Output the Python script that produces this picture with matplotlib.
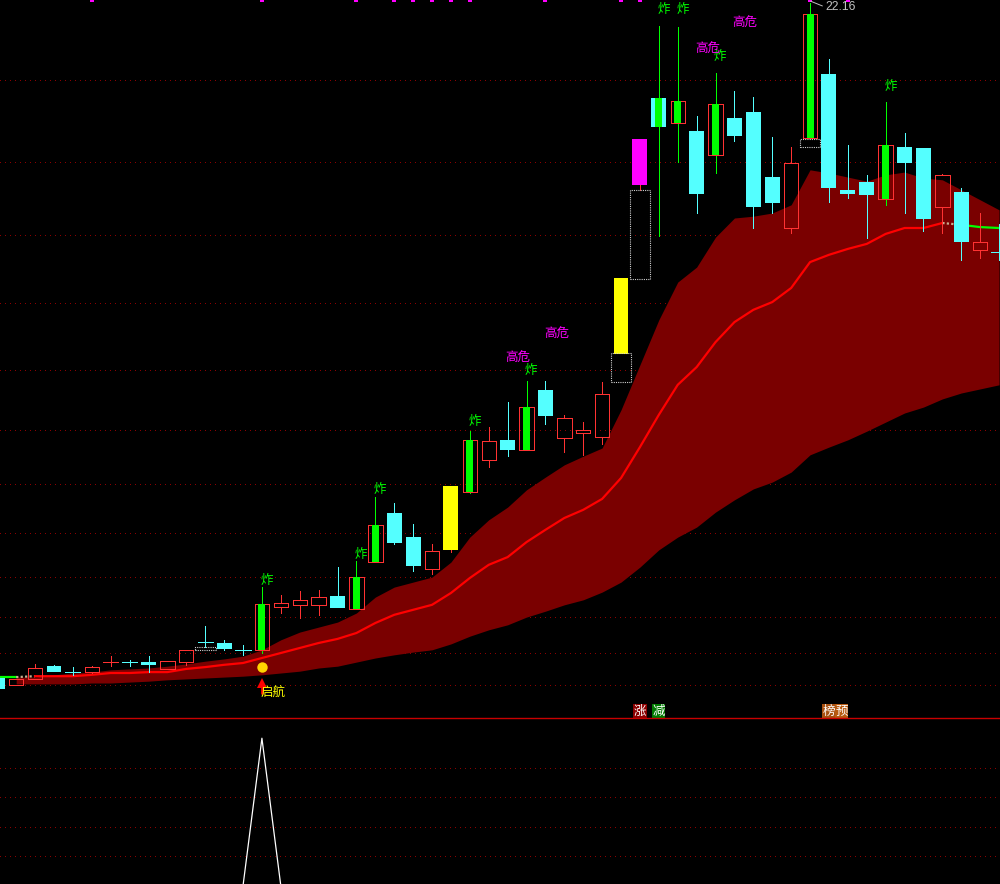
import matplotlib
matplotlib.use('Agg')
import matplotlib.pyplot as plt
from matplotlib.patches import Rectangle

plt.rcParams['font.family'] = ['Noto Sans CJK SC', 'DejaVu Sans']

# K线数据
opens = [7.31, 7.16, 7.29, 7.57, 7.45, 7.45, 7.66, 7.66, 7.66, 7.51,
         7.67, 8.10, 8.08, 7.93, 7.93, 8.88, 8.91, 8.92, 9.11, 8.83,
         9.87, 10.94, 10.41, 9.71, 10.13, 11.41, 12.11, 12.55, 12.33, 13.65,
         12.60, 12.71, 12.62, 14.44, 18.16, 20.07, 19.52, 19.34, 18.82, 19.63,
         19.76, 18.33, 17.21, 19.19, 20.60, 18.05, 18.22, 17.85, 18.99, 18.97,
         17.67, 18.00, 16.73, 16.68]
closes = [7.07, 7.28, 7.52, 7.44, 7.45, 7.55, 7.66, 7.66, 7.60, 7.68,
          7.92, 8.10, 7.95, 7.93, 8.94, 8.95, 9.02, 9.09, 8.85, 9.53,
          10.67, 10.29, 9.77, 10.10, 11.53, 12.54, 12.52, 12.33, 13.27, 13.07,
          13.02, 12.76, 13.55, 16.11, 19.17, 19.43, 20.00, 17.96, 19.94, 19.23,
          17.67, 17.76, 18.64, 21.92, 18.09, 17.96, 17.94, 19.04, 18.64, 17.41,
          18.38, 16.90, 16.90, 16.68]
highs = [7.31, 7.28, 7.62, 7.60, 7.55, 7.57, 7.79, 7.71, 7.79, 7.68,
         7.92, 8.45, 8.15, 8.04, 9.31, 9.14, 9.22, 9.25, 9.75, 9.88,
         11.30, 11.16, 10.70, 10.26, 11.53, 12.74, 12.83, 13.38, 13.84, 13.84,
         13.10, 12.94, 13.82, 16.11, 19.17, 21.65, 21.63, 19.67, 20.62, 20.22,
         20.09, 19.21, 18.99, 22.16, 20.93, 19.04, 18.38, 19.98, 19.30, 18.97,
         18.40, 18.09, 17.54, 17.30]
lows = [7.07, 7.16, 7.29, 7.44, 7.38, 7.42, 7.57, 7.57, 7.45, 7.51,
        7.60, 7.99, 7.93, 7.82, 7.87, 8.75, 8.64, 8.70, 8.85, 8.83,
        9.87, 10.26, 9.67, 9.60, 10.08, 11.38, 11.95, 12.19, 12.33, 12.90,
        12.29, 12.22, 12.46, 14.44, 18.05, 17.03, 18.66, 17.54, 18.42, 19.12,
        17.21, 17.54, 17.10, 19.17, 17.78, 17.87, 16.99, 17.72, 17.54, 17.14,
        17.10, 16.51, 16.55, 16.51]
# 平盘但算下跌的十字星
flat_down_idx = [4, 7, 11, 13, 53]

# 通道上下轨, 从第二根K线开始
band_upper = [7.33, 7.33, 7.38, 7.42, 7.44, 7.49, 7.51, 7.53, 7.57, 7.62,
              7.68, 7.73, 7.79, 7.93, 8.15, 8.32, 8.43, 8.54, 8.74, 9.09,
              9.31, 9.42, 9.53, 9.86, 10.41, 10.79, 11.07, 11.45, 11.73, 12.00,
              12.19, 12.37, 13.21, 14.20, 15.19, 16.02, 16.35, 17.01, 17.43, 17.47,
              17.54, 17.72, 18.49, 18.42, 18.33, 18.24, 18.38, 18.44, 18.31, 18.27,
              18.05, 17.83, 17.61]
band_lower = [7.18, 7.18, 7.18, 7.18, 7.20, 7.20, 7.22, 7.24, 7.27, 7.29,
              7.31, 7.33, 7.35, 7.38, 7.42, 7.46, 7.53, 7.57, 7.66, 7.75,
              7.82, 7.88, 7.93, 8.06, 8.23, 8.37, 8.48, 8.65, 8.78, 8.92,
              9.03, 9.20, 9.42, 9.75, 10.13, 10.41, 10.63, 10.96, 11.23, 11.47,
              11.62, 11.84, 12.22, 12.39, 12.55, 12.74, 12.94, 13.14, 13.27, 13.45,
              13.58, 13.67, 13.76]
mid_line = [7.33, 7.33, 7.35, 7.35, 7.35, 7.38, 7.42, 7.42, 7.44, 7.44,
            7.51, 7.55, 7.60, 7.64, 7.75, 7.86, 7.97, 8.08, 8.17, 8.30,
            8.52, 8.70, 8.81, 8.92, 9.18, 9.51, 9.80, 9.97, 10.30, 10.57,
            10.83, 11.01, 11.25, 11.71, 12.39, 13.10, 13.76, 14.15, 14.70, 15.14,
            15.41, 15.58, 15.89, 16.46, 16.62, 16.75, 16.86, 17.08, 17.21, 17.21,
            17.32, 17.28, 17.23, 17.21]

grid_prices = [20.47, 18.66, 17.06, 15.56, 14.09, 12.77, 11.58, 10.50, 9.53, 8.65, 7.86, 7.16]

zha_idx = [14, 19, 20, 25, 28, 35, 36, 38, 43, 47]
zha_label_idx = [14, 19, 20, 25, 28, 35, 36, 38, 47]
zha_label_y = [9.45, 10.02, 11.45, 12.95, 14.07, 22.01, 22.01, 20.98, 20.32]
yellow_idx = [24, 33]
magenta_idx = [34]
top_mark_idx = [5, 14, 19, 21, 22, 23, 24, 25, 29, 33, 34, 43, 45]
gaiwei_x = [27.55, 29.6, 37.6, 39.56]
gaiwei_y = [14.35, 14.86, 21.15, 21.72]
# 缺口框: 位置, 下沿, 上沿
gap_idx = [11, 33, 34, 43]
gap_low = [7.93, 13.83, 16.09, 18.99]
gap_high = [7.99, 14.46, 18.05, 19.17]
# 附图数据
sub_values = [0] * 54
sub_values[14] = 1
sub_grid = [0.2, 0.4, 0.6, 0.8]

RED = '#ff3232'
CYAN = '#54ffff'
GREEN = '#00ff00'
GRID = '#8c0000'
PRICE_TOP = 22.226
PRICE_BOTTOM = 6.43
DOTS = (0, (1, 5))

fig = plt.figure(figsize=(10, 8.84), dpi=100, facecolor='black')
ax = fig.add_axes([0, 166 / 884, 1, 718 / 884], facecolor='black')
ax2 = fig.add_axes([0, 0, 1, 166 / 884], facecolor='black')

ax.set_xlim(0.143, 53.05)
ax.set_ylim(PRICE_BOTTOM, PRICE_TOP)
ax.axis('off')

idx = list(range(54))

# 网格
ax.hlines(grid_prices, 0.143, 53.05, colors=GRID, linestyles=DOTS, linewidth=0.72, zorder=1, antialiased=False)

# 通道
ax.fill_between(idx[1:], band_lower, band_upper, color='#7a0000', linewidth=0, zorder=2)

# 中线, 绿-虚-红-虚-绿
ax.plot(idx[:2], mid_line[:2], color=GREEN, lw=1.6, zorder=3)
ax.plot(idx[1:3], mid_line[1:3], color='#c8b090', lw=1.6, ls=(0, (1, 1)), zorder=3)
ax.plot(idx[2:51], mid_line[2:51], color='#ff0000', lw=1.6, zorder=3)
ax.plot(idx[50:52], mid_line[50:52], color='#c8b090', lw=1.6, ls=(0, (1, 1)), zorder=3)
ax.plot(idx[51:], mid_line[51:], color=GREEN, lw=1.6, zorder=3)

# K线
for i in idx:
    o, h, l, c = opens[i], highs[i], lows[i], closes[i]
    up = c >= o and i not in flat_down_idx
    col = RED if up else CYAN
    top = max(o, c)
    bot = min(o, c)
    wick_col = GREEN if i in zha_idx else col
    ax.vlines(i, top, h, colors=wick_col, linewidth=0.7, zorder=4, antialiased=False)
    ax.vlines(i, l, bot, colors=wick_col, linewidth=0.7, zorder=4, antialiased=False)
    if top == bot:
        ax.hlines(top, i - 0.4, i + 0.4, colors=col, linewidth=0.7, zorder=5, antialiased=False)
    elif i in yellow_idx:
        ax.bar(i, top - bot, 0.79, bot, color='#ffff00', linewidth=0, zorder=5)
    elif i in magenta_idx:
        ax.bar(i, top - bot, 0.79, bot, color='#ff00ff', linewidth=0, zorder=5)
    elif up:
        ax.bar(i, top - bot, 0.76, bot, facecolor='none', edgecolor=RED, linewidth=0.7, zorder=5, antialiased=False)
    else:
        ax.bar(i, top - bot, 0.79, bot, color=CYAN, linewidth=0, zorder=5)
    if i in zha_idx:
        ax.bar(i, top - bot, 0.37, bot, color=GREEN, linewidth=0, zorder=6)

# 缺口虚线框
for i, lo, hi in zip(gap_idx, gap_low, gap_high):
    ax.add_patch(Rectangle((i - 0.55, lo), 1.1, hi - lo, facecolor='none', edgecolor='#d0d0d0',
                           linestyle=(0, (1, 1)), linewidth=0.8, zorder=6))

# 顶部小标记
ax.plot(top_mark_idx, [PRICE_TOP] * len(top_mark_idx), 's', color='#ff00ff', ms=2.6, mew=0, zorder=7)

# 文字
for i, y in zip(zha_label_idx, zha_label_y):
    ax.text(i + 0.25, y, '炸', color=GREEN, fontsize=9, ha='center', va='center', zorder=8)
for x, y in zip(gaiwei_x, gaiwei_y):
    ax.text(x, y, '高危', color='#ff00ff', fontsize=9, ha='center', va='center', zorder=8)

ax.plot([14], [7.55], 'o', color='#ffd400', ms=7.5, mew=0, zorder=8)
# 启航箭头
ax.vlines(14, 6.96, 7.15, colors='#ff0000', linewidth=2.0, zorder=8)
ax.plot([14], [7.19], '^', color='#ff0000', ms=6.5, mew=0, zorder=8)
ax.text(14.6, 7.0, '启航', color='#ffff00', fontsize=9, ha='center', va='center', zorder=9)

for x, s, bg in [(34, '涨', '#8b0000'), (35, '减', '#007a00'), (44, '榜', '#a85010'), (44.68, '预', '#b85a10')]:
    ax.text(x, 6.58, s, color='white', fontsize=9, ha='center', va='center', zorder=9,
            bbox=dict(boxstyle='square,pad=0.03', facecolor=bg, edgecolor='none'))

# 最高价标注
ax.annotate('22.16', xy=(43.03, 22.2), xytext=(43.8, 22.07), color='#c0c0c0', fontsize=8.7,
            family='Liberation Sans', ha='left', va='center', zorder=9,
            arrowprops=dict(arrowstyle='-', color='#c0c0c0', lw=0.7, shrinkA=0, shrinkB=0, relpos=(0, 0.5)))

# 附图
ax2.set_xlim(0.143, 53.05)
ax2.set_ylim(0.012, 1.137)
ax2.set_xticks([])
ax2.set_yticks([])
for name in ['left', 'right', 'bottom']:
    ax2.spines[name].set_visible(False)
ax2.spines['top'].set_color('#c80000')
ax2.spines['top'].set_linewidth(1.0)
ax2.hlines(sub_grid, 0.143, 53.05, colors=GRID, linestyles=DOTS, linewidth=0.72, zorder=1, antialiased=False)
ax2.plot(idx, sub_values, color='white', lw=0.9, zorder=3)

fig.savefig('out.png', dpi=100, facecolor='black')
